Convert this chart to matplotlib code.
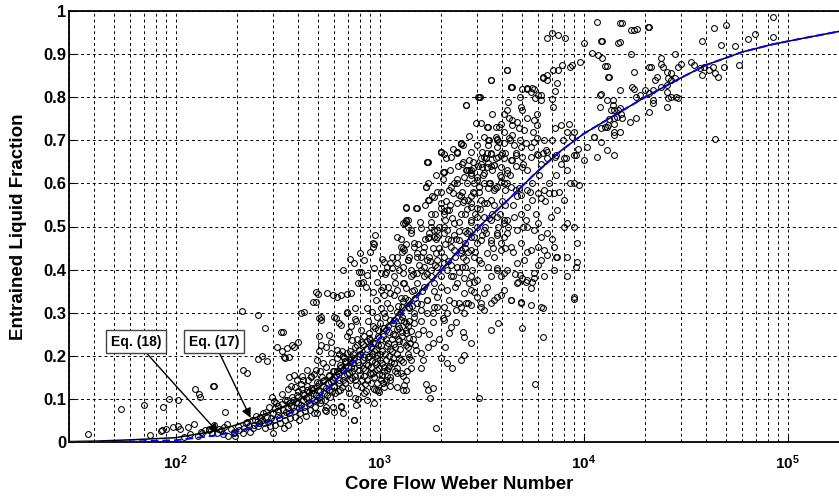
import numpy as np
import matplotlib
matplotlib.use('Agg')
import matplotlib.pyplot as plt
from matplotlib.ticker import FixedLocator, NullFormatter, FixedFormatter

plt.rcParams['font.family'] = ['Liberation Sans', 'DejaVu Sans']
plt.rcParams['font.weight'] = 'bold'
plt.rcParams['mathtext.fontset'] = 'custom'
plt.rcParams['mathtext.rm'] = 'Liberation Sans:bold'
plt.rcParams['mathtext.bf'] = 'Liberation Sans:bold'
plt.rcParams['mathtext.it'] = 'Liberation Sans:bold'

# ---------------- data ----------------
# correlation curves (Core Flow Weber Number, entrained fraction)
we_curve = [30, 40, 60, 100, 150, 200, 300, 400, 500, 700, 1000, 1300, 1800,
            2500, 3000, 4400, 5700, 7700, 10000, 15000, 20000, 30000, 40000,
            60000, 85000, 120000, 200000]
eq17 = [0.001, 0.002, 0.005, 0.010, 0.024, 0.040, 0.072, 0.097, 0.125, 0.183,
        0.250, 0.310, 0.375, 0.450, 0.495, 0.568, 0.620, 0.675, 0.715, 0.765,
        0.800, 0.845, 0.875, 0.905, 0.923, 0.937, 0.957]
eq18 = [0.000, 0.0003, 0.001, 0.004, 0.014, 0.024, 0.050, 0.075, 0.102, 0.172,
        0.240, 0.302, 0.372, 0.448, 0.494, 0.568, 0.620, 0.675, 0.715, 0.765,
        0.800, 0.845, 0.875, 0.905, 0.923, 0.937, 0.957]

# experimental points (We, E), grouped by region of the plot
pts_low = [(37, .019), (54, .076), (70, .086), (75, .017), (85, .026), (86, .028),
           (87, .081), (90, .030), (93, .100), (97, .035), (103, .036), (103, .097),
           (105, .031), (115, .035), (117, .018), (123, .042), (125, .124), (130, .112),
           (132, .104), (135, .021), (145, .027), (152, .129), (155, .131), (175, .069),
           (180, .015), (133, .023), (140, .027), (146, .031), (154, .039), (160, .021),
           (166, .027), (173, .035), (179, .042), (193, .020), (110, .012), (128, .015),
           (150, .020), (163, .030), (170, .018), (186, .030)]

pts_band = [(193, .024), (196, .013), (204, .028), (201, .036), (216, .032), (213, .020),
            (228, .036), (225, .047), (231, .024), (242, .040), (239, .032), (245, .051),
            (256, .044), (252, .036), (259, .059), (270, .044), (266, .051), (273, .032),
            (268, .067), (285, .047), (281, .059), (289, .036), (303, .051), (299, .067),
            (306, .040), (301, .020), (321, .055), (317, .071), (325, .044), (340, .063),
            (336, .075), (344, .051), (338, .032), (360, .067), (355, .078), (364, .055),
            (358, .090), (380, .071), (375, .082), (384, .059), (378, .098), (402, .078),
            (397, .090), (407, .067), (400, .105), (425, .082), (420, .098), (430, .071),
            (423, .113), (450, .090), (445, .105), (455, .075), (448, .117), (476, .098),
            (470, .113), (481, .082), (474, .125), (479, .067), (504, .105), (498, .121),
            (510, .090), (502, .136), (535, .113), (529, .129), (541, .098), (532, .144),
            (538, .075), (565, .121), (559, .136), (571, .105), (562, .152), (597, .129),
            (591, .144), (603, .113), (594, .082), (630, .144), (624, .160), (636, .121),
            (668, .152), (661, .167), (675, .136), (665, .067), (708, .160), (701, .175),
            (715, .144), (704, .113), (750, .171), (742, .183), (758, .152), (747, .051),
            (222, .043), (236, .052), (248, .061), (262, .048), (277, .070), (292, .055),
            (308, .078), (318, .062), (332, .088), (348, .070), (352, .098), (368, .084),
            (388, .092), (392, .110), (412, .085), (418, .122), (436, .102), (441, .130),
            (458, .088), (465, .120), (486, .108), (492, .140), (512, .118), (518, .098),
            (524, .150), (548, .125), (552, .108), (578, .140), (584, .118), (588, .165),
            (286, .082), (312, .090), (356, .040), (402, .052), (436, .060), (296, .105),
            (305, .095), (318, .083), (331, .112), (344, .098), (357, .122), (371, .105),
            (385, .128), (399, .118), (413, .135), (428, .108), (443, .145), (459, .125),
            (475, .158), (491, .130), (508, .165), (526, .142), (544, .175), (562, .155),
            (581, .185), (600, .165), (620, .195), (641, .178), (662, .200), (684, .185)]

pts_lowmid = [(315, .221), (333, .210), (353, .218), (380, .156), (418, .152), (422, .144),
              (252, .192), (265, .200), (280, .189), (340, .197), (360, .197), (215, .166),
              (224, .161), (275, .264), (336, .256), (212, .303), (254, .295), (504, .245),
              (514, .225), (504, .210), (495, .190), (576, .233), (655, .210), (630, .204),
              (765, .280), (440, .167), (460, .152), (395, .144), (366, .129), (765, .086),
              (645, .084), (545, .071), (495, .067), (960, .120), (785, .100), (490, .325),
              (500, .343), (555, .345), (590, .340), (645, .340), (695, .343), (610, .287),
              (630, .275), (695, .302), (705, .256), (720, .268), (780, .368), (830, .372),
              (860, .360), (930, .349), (1010, .353), (1050, .341), (1130, .345), (1170, .341),
              (1210, .353), (1300, .368), (1340, .357), (1270, .334), (1210, .302), (1290, .314),
              (1300, .326), (1270, .283), (1340, .260), (1090, .322), (1050, .299), (970, .291),
              (920, .302), (1130, .283), (410, .299), (425, .302), (505, .287), (514, .289),
              (470, .324), (490, .347), (330, .255), (345, .195), (370, .224), (380, .220),
              (400, .232), (360, .150),
              (1010, .310), (1060, .390), (1100, .360), (1150, .430), (1190, .370), (1240, .400),
              (1290, .440), (1350, .460), (1400, .430), (1460, .390)]

pts_dense1 = [(807, .260), (840, .245), (870, .234), (904, .221), (940, .210), (975, .203),
              (885, .199), (920, .187), (955, .180), (995, .172), (1030, .183), (1070, .190),
              (1110, .199), (1150, .210), (1190, .221), (1250, .234), (1290, .245), (1340, .253),
              (1390, .241), (1170, .183), (1210, .171), (1270, .160), (1300, .152), (1340, .144),
              (1050, .164), (1090, .152), (1130, .144), (1010, .144), (975, .136), (825, .190),
              (855, .180), (790, .167), (840, .152), (870, .144), (904, .136), (940, .124),
              (995, .117), (1050, .128), (1210, .128), (1300, .121), (807, .128), (760, .221),
              (735, .237), (780, .199), (695, .206), (680, .187), (720, .175), (660, .167),
              (620, .164), (665, .144), (630, .136), (590, .144), (600, .128), (840, .113),
              (665, .400), (745, .415), (790, .395), (835, .422), (870, .387), (935, .403),
              (975, .371), (810, .369), (720, .345), (620, .336), (695, .299), (595, .290),
              (645, .271), (565, .248), (515, .283), (545, .220), (576, .206), (620, .213),
              (525, .183), (485, .167), (460, .151), (595, .151), (645, .174), (720, .197),
              (790, .213), (900, .237), (985, .260), (440, .121), (495, .097), (545, .081),
              (595, .070), (645, .081), (745, .051), (760, .102), (870, .097), (935, .090),
              (985, .121), (1040, .137), (950, .230), (1020, .240), (1080, .260), (880, .280),
              (760, .310), (1100, .230), (1160, .250), (1230, .270), (930, .160), (1000, .205),
              (610, .155), (625, .118), (640, .172), (655, .128), (672, .195), (688, .158),
              (702, .125), (718, .210), (733, .148), (748, .195), (762, .132), (777, .240),
              (792, .178), (805, .205), (818, .145), (832, .228), (846, .168), (858, .118),
              (872, .198), (886, .252), (898, .160), (912, .175), (925, .230), (938, .150),
              (952, .265), (966, .195), (980, .226), (994, .158), (1008, .275), (1022, .210),
              (1038, .245), (1052, .175), (1068, .290), (1082, .222), (1098, .268), (1112, .176),
              (1128, .310), (1145, .238), (1160, .195), (1178, .283), (1195, .248), (1212, .205),
              (1230, .315), (1248, .265), (1265, .215), (1285, .290), (1305, .232), (1325, .335),
              (1348, .275), (1370, .205), (1395, .310), (1420, .258), (1445, .350), (1470, .290),
              (1495, .335), (870, .310), (960, .330), (1040, .360), (760, .285), (690, .245),
              (712, .190), (728, .165), (744, .205), (756, .145), (771, .225), (786, .185),
              (799, .155), (813, .232), (826, .172), (839, .198), (851, .135), (864, .215),
              (878, .178), (891, .242), (905, .158), (918, .205), (931, .268), (944, .185),
              (958, .215), (972, .168), (986, .245), (1001, .190), (1016, .225), (1031, .155),
              (1046, .265), (1061, .205), (1076, .238), (1093, .172), (1108, .255), (1124, .215),
              (1141, .185), (1158, .275), (1175, .228), (1192, .165), (1210, .262), (1228, .238),
              (1246, .195), (1265, .300), (1284, .255), (1303, .185), (1322, .280), (1342, .225),
              (1362, .165), (1383, .270), (1404, .230), (1426, .190), (1448, .315), (1471, .275),
              (1494, .225)]

pts_dense2 = [(3500, .260), (3800, .276), (5000, .264), (6300, .244), (5800, .135),
              (3060, .102), (1880, .033), (1760, .102), (1730, .121), (1820, .125),
              (1680, .135), (1340, .121), (1310, .132), (1130, .130), (1070, .144),
              (1990, .195), (2150, .183), (2270, .172), (2500, .190), (2580, .202),
              (2790, .230), (2180, .253), (2230, .267), (2550, .255), (2580, .244),
              (2370, .278), (2060, .283), (1830, .278), (1640, .260), (1820, .230),
              (1720, .220), (1590, .206), (1500, .213), (1390, .197), (1270, .190),
              (1170, .183), (1220, .160), (1130, .151), (1090, .167), (1040, .137),
              (1420, .172), (1590, .172), (1640, .190), (2790, .318), (3130, .322),
              (3250, .306), (3500, .322), (3640, .329), (3920, .341), (4390, .329),
              (4910, .325), (5500, .318), (6300, .311), (2450, .322), (2700, .322),
              (2900, .348), (2580, .300), (2370, .306), (1920, .313), (1830, .300),
              (2040, .288), (2150, .300), (9000, .332), (9300, .418), (9200, .406),
              (4900, .387), (5000, .380), (5200, .371), (4750, .371), (5600, .371),
              (5700, .380), (5700, .392), (5500, .357), (7300, .429), (6600, .434),
              (1450, .240), (1550, .250), (1700, .300), (1600, .320), (1400, .280),
              (1480, .300), (1950, .240), (2100, .220), (1750, .250), (1380, .220)]

pts_cloud1 = [(715, .425), (800, .438), (807, .395), (895, .441), (925, .452), (940, .460),
              (1030, .425), (1050, .418), (1010, .392), (1070, .395), (1150, .403), (1170, .384),
              (1300, .392), (1210, .430), (1270, .453), (1300, .449), (1340, .515), (1330, .508),
              (1340, .542), (1520, .542), (1730, .650), (1690, .592), (1750, .561), (2060, .627),
              (2000, .672), (2400, .672), (2500, .691), (2960, .741), (3380, .731), (3830, .731),
              (4080, .720), (3750, .704), (3190, .673), (3380, .688), (3250, .662), (3500, .670),
              (3750, .685), (4140, .670), (2740, .654), (2640, .631), (2790, .623), (3010, .616),
              (3190, .639), (3380, .647), (3560, .631), (3920, .616), (4080, .600), (2900, .600),
              (3070, .592), (3380, .589), (3750, .592), (4140, .585), (2180, .585), (2300, .577),
              (2450, .573), (2560, .558), (2700, .561), (2790, .546), (3010, .542), (3250, .554),
              (3500, .561), (2610, .530), (2790, .515), (3010, .500), (3250, .492), (3500, .515),
              (3750, .523), (4080, .515), (4270, .500), (1990, .542), (2060, .535), (2180, .538),
              (2100, .515), (1780, .500), (1750, .484), (1850, .476), (1720, .473), (1920, .492),
              (2150, .492), (2320, .480), (2450, .469), (2610, .461), (2790, .476), (3010, .461),
              (3500, .461), (3750, .480), (4080, .476), (2230, .453), (2500, .438), (2700, .441),
              (2900, .430), (3130, .415), (3380, .407), (3750, .403), (4080, .392), (1470, .453),
              (1530, .438), (1590, .430), (1650, .407), (1420, .399), (1370, .422), (1300, .407),
              (1530, .392), (1650, .384), (1780, .399), (1920, .422), (2060, .430), (2150, .399),
              (2300, .384), (2450, .395), (2610, .407), (2790, .384), (3010, .376), (1090, .407),
              (1130, .415), (1210, .415), (1340, .513), (1380, .499), (1300, .508), (1420, .485),
              (1220, .476), (1270, .471), (950, .480), (930, .462), (1700, .650), (1680, .592),
              (1730, .561), (2050, .626), (1990, .672),
              (1520, .370), (1560, .410), (1610, .350), (1660, .470), (1700, .390), (1740, .430),
              (1790, .530), (1830, .450), (1870, .410), (1910, .580), (1950, .500), (1990, .440),
              (2040, .610), (2080, .460), (2120, .560), (2170, .420), (2210, .630), (2260, .520),
              (2310, .600), (2360, .470), (2410, .640), (2460, .510), (2520, .580), (2570, .690),
              (2620, .490), (2680, .600), (2740, .710), (2800, .570), (2860, .650), (2930, .530),
              (3000, .690), (3080, .580), (3150, .740), (3220, .620), (3300, .500), (3380, .700),
              (3460, .600), (3540, .760), (3620, .550), (3700, .660), (3790, .500), (3880, .620),
              (3960, .560), (1600, .280), (1700, .330), (1850, .350), (2000, .360), (2200, .330),
              (2350, .360), (2600, .380), (2850, .400), (1900, .470), (2250, .410), (2550, .430),
              (1540, .460), (1580, .510), (1630, .440), (1670, .550), (1720, .600), (1770, .420),
              (1810, .570), (1860, .530), (1900, .620), (1960, .450), (2010, .580), (2060, .500),
              (2110, .660), (2160, .470), (2220, .550), (2280, .680), (2330, .430), (2390, .610),
              (2440, .490), (2500, .570), (2560, .650), (2610, .450), (2680, .540), (2740, .490),
              (2810, .630), (2870, .580), (2950, .440), (3020, .640), (3100, .540), (3170, .480),
              (3260, .600), (3340, .660), (3420, .520), (3510, .640), (3600, .450), (3690, .590),
              (3780, .700), (3880, .530), (3980, .670), (4100, .450), (4230, .600), (4370, .700),
              (4520, .550), (4670, .640), (4830, .590)]

pts_cloud2 = [(1990, .673), (2230, .662), (2400, .670), (2540, .646), (2790, .673), (3130, .658),
              (3370, .670), (3630, .642), (3920, .666), (4460, .654), (4650, .671), (5050, .646),
              (5950, .666), (6650, .673), (7300, .666), (8000, .658), (9000, .666), (1710, .650),
              (2070, .627), (2230, .592), (2400, .600), (2590, .615), (2690, .631), (2790, .619),
              (3010, .608), (3250, .623), (3430, .600), (3630, .585), (3920, .604), (4230, .623),
              (4390, .592), (4650, .585), (4910, .573), (5300, .585), (5600, .600), (5950, .577),
              (6150, .565), (6400, .585), (6760, .577), (7150, .577), (7710, .646), (8300, .631),
              (9000, .600), (9500, .596), (1340, .546), (1500, .542), (1370, .515), (1420, .492),
              (1590, .496), (1780, .511), (1850, .492), (1920, .476), (1750, .476), (1650, .453),
              (1470, .461), (1320, .445), (1370, .422), (1530, .430), (1710, .422), (1880, .438),
              (1590, .399), (1420, .384), (1320, .368), (1470, .353), (1650, .360), (1850, .368),
              (1990, .384), (2070, .415), (1920, .407), (1780, .384), (1370, .329), (1530, .322),
              (1710, .329), (1920, .337), (1850, .314), (2070, .314), (2320, .322), (2150, .353),
              (2230, .384), (2400, .407), (2320, .445), (2230, .469), (2070, .484), (2320, .507),
              (2500, .530), (2150, .538), (1990, .554), (1850, .569), (2070, .530), (2400, .554),
              (2590, .561), (2790, .554), (2900, .577), (3130, .561), (3370, .554), (3560, .530),
              (3250, .523), (3010, .523), (2790, .511), (2690, .484), (2900, .476), (3130, .469),
              (3310, .484), (3500, .469), (3780, .484), (3920, .461), (4070, .507), (4230, .515),
              (4550, .523), (4910, .530), (5300, .546), (5600, .561), (5200, .515), (4730, .492),
              (4230, .484), (4390, .453), (3920, .445), (3630, .430), (3370, .438), (3070, .422),
              (2790, .445), (2640, .422), (2500, .445), (2540, .407), (2740, .368), (2790, .353),
              (2900, .372), (2590, .345), (2400, .368), (3010, .337), (3370, .360), (3500, .384),
              (3780, .399), (4230, .399), (4730, .415), (5100, .422), (5500, .445), (5950, .453),
              (6400, .445), (6650, .484), (7150, .453), (6150, .476), (5700, .492), (5300, .500),
              (4910, .461), (5950, .507), (6890, .523), (7430, .538), (8000, .561), (8300, .507),
              (9000, .500), (9300, .461), (8300, .430), (7430, .430), (6150, .422), (7150, .399),
              (8300, .384), (6400, .384), (5300, .376), (4730, .368), (4070, .353), (3920, .384),
              (3780, .337), (4390, .329), (4910, .322), (6150, .314), (9000, .337), (3130, .314),
              (3250, .345), (2500, .314), (2640, .322), (1590, .306), (1390, .314),
              (4100, .550), (4350, .620), (4500, .440), (4700, .570), (4850, .700), (5050, .500),
              (5250, .630), (5450, .580), (5650, .720), (5850, .530), (6050, .620), (6300, .670),
              (6500, .560), (6800, .600), (7000, .700), (7300, .620), (7600, .580), (7900, .700),
              (8200, .660), (8600, .600), (9000, .720), (9400, .680), (4600, .390), (5300, .440),
              (6000, .410), (7000, .470), (8000, .500), (4250, .790), (5000, .820), (5900, .760)]

pts_high = [(4220, .770), (4080, .761), (4310, .752), (4470, .747), (4740, .742), (4910, .777),
            (5000, .770), (5300, .752), (5700, .747), (5930, .735), (4820, .728), (5100, .724),
            (4470, .735), (3920, .738), (3700, .731), (3370, .731), (3250, .708), (3440, .700),
            (3700, .708), (3850, .697), (4080, .693), (4310, .705), (4470, .712), (4560, .689),
            (4910, .685), (5200, .693), (5500, .685), (5700, .697), (5930, .705), (6400, .700),
            (6520, .677), (5930, .669), (5500, .662), (5000, .662), (4650, .666), (4390, .654),
            (4080, .658), (3790, .662), (3500, .669), (3310, .658), (3130, .646), (2880, .635),
            (2740, .632), (3370, .638), (3620, .643), (3920, .638), (4220, .631), (5000, .638),
            (6150, .646), (6640, .658), (7280, .662), (7280, .728), (7710, .735), (8330, .720),
            (8800, .708), (8480, .738), (9160, .666), (10000, .654), (10400, .685), (11200, .708),
            (12100, .697), (13000, .677), (14100, .666), (13000, .731), (14100, .738), (13300, .750),
            (14700, .770), (14100, .720), (11600, .662), (2500, .693), (2060, .669), (3060, .800),
            (2640, .782), (3530, .840), (4220, .863), (4390, .824), (6600, .937), (7000, .949),
            (7500, .944), (8100, .937), (10000, .926), (11600, .975), (14700, .926), (11000, .903),
            (11700, .898), (12300, .891), (9600, .882), (8800, .875), (8600, .870), (7800, .875),
            (7500, .863), (7100, .863), (6600, .852), (6300, .845), (6600, .840), (6300, .847),
            (7400, .833), (7200, .815), (7000, .795), (5300, .821), (5600, .821), (5500, .812),
            (6000, .805), (6200, .805), (6200, .793), (5800, .798), (4900, .800), (4400, .824),
            (4200, .863), (3500, .840), (3050, .800), (2650, .782), (2500, .694), (2400, .673),
            (13000, .793), (14000, .793), (14000, .782), (12000, .805), (12000, .777), (7100, .777),
            (4450, .823), (3100, .800), (5300, .820), (5700, .820)]

pts_top = [(12200, .931), (15000, .971), (17000, .956), (17600, .957), (21000, .962), (17000, .900),
           (13000, .872), (13300, .847), (17600, .859), (15000, .816), (12100, .807), (14100, .770),
           (17300, .823), (21000, .871), (21500, .869), (24000, .878), (24000, .890), (24500, .871),
           (25500, .859), (23000, .847), (22500, .840), (26000, .844), (26700, .840), (28000, .844),
           (26700, .855), (28000, .900), (29000, .871), (30000, .878), (25500, .828), (24000, .824),
           (22000, .817), (21000, .809), (19000, .805), (18000, .800), (17700, .820), (22000, .793),
           (22000, .786), (25500, .813), (26000, .797), (26700, .801), (28500, .800), (29000, .797),
           (21000, .766), (25500, .778), (20000, .817), (15000, .774), (15200, .762), (14500, .755),
           (15500, .751), (14100, .751), (13600, .770), (13200, .735), (12700, .731), (12100, .728),
           (15000, .720), (16800, .743), (18000, .751), (11200, .708), (14100, .712), (33500, .882),
           (34800, .875), (37000, .867), (39000, .871), (38200, .851), (41000, .863), (43000, .871),
           (44000, .855), (45500, .847), (49000, .871), (58000, .875), (38200, .931), (43500, .960),
           (50000, .967), (47000, .922), (55000, .919), (64000, .936), (69000, .946), (85000, .987),
           (85000, .940), (44000, .703), (12300, .930), (15500, .972), (18300, .958), (20700, .963),
           (15000, .928), (12800, .872), (13200, .847)]

# ---------------- figure ----------------
fig = plt.figure(figsize=(8.39, 5.01), dpi=100)
ax = fig.add_axes([69 / 839, 59 / 501, 780 / 839, 431 / 501])

all_pts = pts_low + pts_band + pts_lowmid + pts_dense1 + pts_dense2 + pts_cloud1 + pts_cloud2 + pts_high + pts_top
we_pts = np.array([p[0] for p in all_pts], dtype=float)
e_pts = np.array([p[1] for p in all_pts], dtype=float)

ax.plot(we_pts, e_pts, linestyle='none', marker='o', markersize=4.2,
        markerfacecolor='none', markeredgecolor='black', markeredgewidth=0.75, zorder=3)

ax.plot(we_curve, eq17, color='black', lw=1.1, zorder=4)
ax.plot(we_curve, eq18, color='#0000ff', lw=1.4, linestyle=(0, (4, 2)), zorder=5)

ax.set_xscale('log')
ax.set_xlim(30, 2e5)
ax.set_ylim(0, 1)

ax.xaxis.set_major_locator(FixedLocator([1e2, 1e3, 1e4, 1e5]))
ax.xaxis.set_major_formatter(FixedFormatter([r'$\mathbf{10^{2}}$', r'$\mathbf{10^{3}}$',
                                             r'$\mathbf{10^{4}}$', r'$\mathbf{10^{5}}$']))
minor = [m * 10 ** d for d in range(1, 6) for m in range(2, 10) if 30 <= m * 10 ** d <= 2e5]
ax.xaxis.set_minor_locator(FixedLocator(minor))
ax.xaxis.set_minor_formatter(NullFormatter())
yt = [0, 0.1, 0.2, 0.3, 0.4, 0.5, 0.6, 0.7, 0.8, 0.9, 1]
ax.set_yticks(yt)
ax.set_yticklabels(['0', '0.1', '0.2', '0.3', '0.4', '0.5', '0.6', '0.7', '0.8', '0.9', '1'])

ax.grid(True, which='both', axis='x', color='black', linestyle=(0, (3, 3)), lw=0.7)
ax.grid(True, which='major', axis='y', color='black', linestyle=(0, (3, 3)), lw=0.7)
ax.set_axisbelow(True)

ax.tick_params(which='both', direction='in')
ax.tick_params(axis='y', labelsize=12, pad=2)
ax.tick_params(axis='x', labelsize=11, pad=8)
ax.tick_params(which='major', length=4, width=0.8)
ax.tick_params(which='minor', length=2, width=0.6)
for lab in ax.get_yticklabels():
    lab.set_fontweight('bold')
for s in ax.spines.values():
    s.set_linewidth(1.3)

ax.set_xlabel('Core Flow Weber Number', fontsize=13.5, fontweight='bold', labelpad=3)
ax.set_ylabel('Entrained Liquid Fraction', fontsize=13.5, fontweight='bold', labelpad=12)

box = dict(boxstyle='square,pad=0.35', facecolor='white', edgecolor='#444444', lw=1)
arrow = dict(arrowstyle='-|>', color='black', lw=1.0, mutation_scale=14, shrinkA=0, shrinkB=0)
ax.annotate('Eq. (18)', xy=(162, 0.021), xytext=(64, 0.233), fontsize=10, fontweight='bold',
            ha='center', va='center', bbox=box, arrowprops=arrow, zorder=6)
ax.annotate('Eq. (17)', xy=(233, 0.056), xytext=(154, 0.233), fontsize=10, fontweight='bold',
            ha='center', va='center', bbox=box, arrowprops=arrow, zorder=6)

fig.savefig('out.png', dpi=100)
